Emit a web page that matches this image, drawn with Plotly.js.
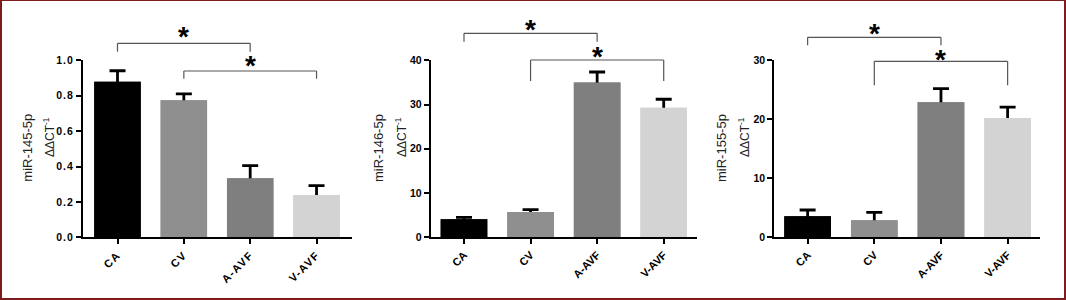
<!DOCTYPE html>
<html>
<head>
<meta charset="utf-8">
<script src="https://cdn.plot.ly/plotly-3.0.1.min.js"></script>
<style>
html, body { margin: 0; padding: 0; background: #fff; }
#wrap { position: relative; width: 1066px; height: 300px; box-sizing: border-box; }
#frame { position: absolute; left: 0; top: 0; width: 1066px; height: 300px; box-sizing: border-box;
  border: 2px solid #7d1c1c; border-top-width: 1px; pointer-events: none; }
#chart { width: 1066px; height: 300px; }
.xtick text { letter-spacing: 1.3px; }
.ytick text { letter-spacing: 1px; }
</style>
</head>
<body>
<div id="wrap"><div id="chart"></div><div id="frame"></div></div>
<script>
// ---- data ----
const categories = ['CA', 'CV', 'A-AVF', 'V-AVF'];
const barColors = ['#000000', '#8f8f8f', '#7f7f7f', '#d3d3d3'];

const mir145Mean = [0.879, 0.774, 0.333, 0.239];
const mir145Upper = [0.941, 0.810, 0.405, 0.292];

const mir146Mean = [4.07, 5.72, 35.0, 29.3];
const mir146Upper = [4.5, 6.24, 37.36, 31.2];

const mir155Mean = [3.56, 2.88, 22.88, 20.22];
const mir155Upper = [4.63, 4.24, 25.19, 22.08];

const yTitles = ['miR-145-5p', 'miR-146-5p', 'miR-155-5p'];
const yTitle2 = 'ΔΔCT<sup>-1</sup>';
const yRanges = [[0, 1], [0, 40], [0, 30]];
const yTickVals = [[0, 0.2, 0.4, 0.6, 0.8, 1.0], [0, 10, 20, 30, 40], [0, 10, 20, 30]];
const yTickText = [['0.0', '0.2', '0.4', '0.6', '0.8', '1.0'], ['0', '10', '20', '30', '40'], ['0', '10', '20', '30']];

// significance comparisons: [from category, to category]
const comparisons = [['CA', 'A-AVF'], ['CV', 'V-AVF']];
const sigLabel = '*';

// ---- layout helpers (pixel placement) ----
const W = 1066, H = 300;
const px = v => v / W;
const py = v => 1 - v / H;

const panels = [
  { mean: mir145Mean, upper: mir145Upper, xd: [83, 351.7], xr: [-0.52, 3.53],
    br: [[43.3, 51.7, 33], [71, 78.7, 61.7]], t1: 26.7, t2: 49 },
  { mean: mir146Mean, upper: mir146Upper, xd: [430.7, 697], xr: [-0.5, 3.5],
    br: [[33.3, 41.7, 25], [60, 81, 52.3]], t1: 378, t2: 401 },
  { mean: mir155Mean, upper: mir155Upper, xd: [774.3, 1040.3], xr: [-0.5, 3.49],
    br: [[37.3, 45.3, 29.3], [61.3, 85.3, 55]], t1: 721, t2: 744 }
];
const yTopPx = 60.3, yBotPx = 237.3;

const data = [];
const layout = {
  width: W, height: H,
  margin: { l: 0, r: 0, t: 0, b: 0 },
  paper_bgcolor: '#ffffff', plot_bgcolor: '#ffffff',
  showlegend: false,
  barmode: 'overlay',
  font: { family: 'Liberation Sans, Arial, sans-serif', color: '#000' },
  shapes: [], annotations: []
};

const xTickFont = { family: 'Liberation Sans, Arial, sans-serif', size: 11, weight: 'bold', color: '#000' };
const yTickFont = { family: 'Liberation Sans, Arial, sans-serif', size: 10.5, weight: 'bold', color: '#000' };

panels.forEach((p, i) => {
  const n = i === 0 ? '' : String(i + 1);
  // bars carrying the (symmetric) error bars; lower half is hidden by the bars drawn on top
  data.push({
    type: 'bar',
    x: categories,
    y: p.mean,
    xaxis: 'x' + n, yaxis: 'y' + n,
    width: 0.7,
    marker: { color: barColors, line: { width: 0 } },
    error_y: {
      type: 'data', symmetric: true,
      array: p.upper.map((u, k) => u - p.mean[k]),
      color: '#000', thickness: 2.8, width: 8
    },
    hoverinfo: 'skip'
  });
  data.push({
    type: 'bar',
    x: categories,
    y: p.mean,
    xaxis: 'x' + n, yaxis: 'y' + n,
    width: 0.7,
    marker: { color: barColors, line: { width: 0 } },
    hoverinfo: 'skip'
  });

  layout['xaxis' + n] = {
    domain: [px(p.xd[0]), px(p.xd[1])],
    anchor: 'y' + n,
    type: 'category',
    range: p.xr,
    showgrid: false, zeroline: false,
    showline: true, linecolor: '#000', linewidth: 2,
    ticks: 'outside', ticklen: 5, tickwidth: 2, tickcolor: '#000',
    tickangle: -45,
    tickfont: xTickFont,
    fixedrange: true
  };
  layout['yaxis' + n] = {
    domain: [py(yBotPx), py(yTopPx)],
    anchor: 'x' + n,
    range: yRanges[i],
    tickmode: 'array', tickvals: yTickVals[i], ticktext: yTickText[i],
    showgrid: false, zeroline: false,
    showline: true, linecolor: '#000', linewidth: 2,
    ticks: 'outside', ticklen: 5, tickwidth: 2, tickcolor: '#000',
    tickfont: yTickFont,
    fixedrange: true
  };

  // y titles (two lines)
  layout.annotations.push({
    xref: 'paper', yref: 'paper', x: px(p.t1), y: py(148),
    text: yTitles[i], textangle: -90, showarrow: false,
    xanchor: 'center', yanchor: 'middle',
    font: { family: 'Liberation Sans, Arial, sans-serif', size: 13, color: '#222' }
  });
  layout.annotations.push({
    xref: 'paper', yref: 'paper', x: px(p.t2), y: py(137),
    text: yTitle2, textangle: -90, showarrow: false,
    xanchor: 'center', yanchor: 'middle',
    font: { family: 'Liberation Sans, Arial, sans-serif', size: 12, color: '#222' }
  });

  // significance brackets + stars
  comparisons.forEach((c, j) => {
    const a = categories.indexOf(c[0]);
    const b = categories.indexOf(c[1]);
    const [top, drop, star] = p.br[j];
    const common = { type: 'line', xref: 'x' + n, yref: 'paper', line: { color: '#555', width: 1.2 } };
    layout.shapes.push(Object.assign({}, common, { x0: a, x1: b, y0: py(top), y1: py(top) }));
    layout.shapes.push(Object.assign({}, common, { x0: a, x1: a, y0: py(top), y1: py(drop) }));
    layout.shapes.push(Object.assign({}, common, { x0: b, x1: b, y0: py(top), y1: py(drop) }));
    layout.annotations.push({
      xref: 'x' + n, yref: 'paper', x: (a + b) / 2, y: py(star + 4),
      text: sigLabel, showarrow: false, xanchor: 'center', yanchor: 'middle',
      font: { family: 'Liberation Sans, Arial, sans-serif', size: 28, weight: 'bold', color: '#000' }
    });
  });
});

Plotly.newPlot('chart', data, layout, { staticPlot: true, displayModeBar: false });
</script>
</body>
</html>
